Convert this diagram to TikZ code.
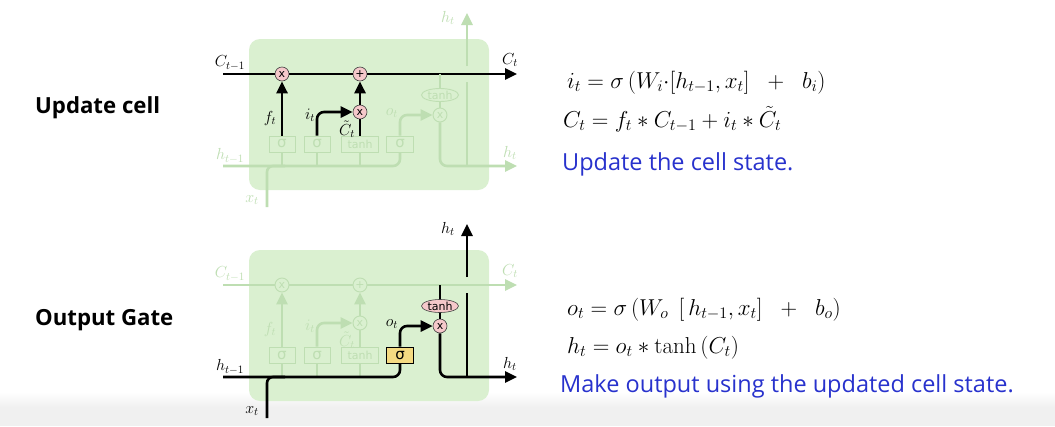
\RequirePackage{fix-cm}
\documentclass[tikz,border=0pt]{standalone}
\usepackage{fontspec}
\usetikzlibrary{arrows.meta,shapes.geometric}
\newfontfamily\dejavu{DejaVu Sans}
\newfontfamily\osans{Open Sans}
\definecolor{boxg}{RGB}{218,240,208}
\definecolor{faintc}{RGB}{190,222,178}
\definecolor{opink}{RGB}{245,200,202}
\definecolor{gyel}{RGB}{245,218,130}
\definecolor{txtblue}{RGB}{40,50,205}
\tikzset{
  hi/.style={draw=black,line width=2.6pt},
  lo/.style={draw=faintc,line width=2.6pt},
  tip/.style={-{Triangle[length=12pt,width=11pt]}},
  rbend/.style={rounded corners=7pt},
  smallbend/.style={rounded corners=6pt},
  boxst/.style={rectangle,rounded corners=11pt,fill=boxg,minimum width=240pt,minimum height=151pt,inner sep=0pt},
  opbase/.style={circle,minimum size=14pt,inner sep=0pt,font=\dejavu\fontsize{11}{11}\selectfont},
  ophi/.style={opbase,fill=opink,draw=black!75,line width=0.6pt,text=black},
  oplo/.style={opbase,fill=boxg,draw=faintc,line width=0.9pt,text=faintc},
  thbase/.style={ellipse,minimum width=37pt,minimum height=13pt,inner sep=0pt,font=\dejavu\fontsize{11}{11}\selectfont},
  thhi/.style={thbase,fill=opink,draw=black!75,line width=0.6pt,text=black},
  thlo/.style={thbase,fill=boxg,draw=faintc,line width=0.9pt,text=faintc},
  gbase/.style={rectangle,minimum height=16pt,inner sep=0pt},
  glo/.style={gbase,fill=boxg,draw=faintc,line width=0.9pt,text=faintc},
  ghi/.style={gbase,fill=gyel,draw=black,line width=0.8pt,text=black},
  sigf/.style={font=\dejavu\fontsize{15}{15}\selectfont},
  tanhf/.style={font=\dejavu\fontsize{11}{11}\selectfont},
  labbase/.style={inner sep=0pt,font=\fontsize{16}{16}\selectfont},
  labhi/.style={labbase,text=black},
  lablo/.style={labbase,text=faintc},
  eqf/.style={inner sep=0pt,anchor=base west,font=\fontsize{23}{23}\selectfont},
  bluef/.style={inner sep=0pt,anchor=base west,text=txtblue,font=\osans\fontsize{23.5}{23.5}\selectfont},
  titlef/.style={inner sep=0pt,anchor=base west,text=black,font=\osans\bfseries\fontsize{22.2}{22.2}\selectfont},
}
\newcommand\lstmcell[1]{%
  \node[boxst] (#1box) at (369,114.5) {};
  % operator nodes
  \node[Cop] (#1m1) at (282,74) {x};
  \node[Cop] (#1add) at (360,74) {+};
  \node[Iop] (#1m2) at (360,112) {x};
  \node[Hop] (#1m3) at (440,115) {x};
  \node[Hth] (#1th) at (440,95) {tanh};
  % gates
  \node[glo,sigf,minimum width=26pt] (#1g1) at (282,144) {σ};
  \node[glo,sigf,minimum width=26pt] (#1g2) at (317,144) {σ};
  \node[glo,tanhf,minimum width=37pt] (#1gt) at (360,144) {tanh};
  \node[G3,sigf,minimum width=27pt] (#1g3) at (400,144) {σ};
  % coordinates
  \coordinate (#1cin) at (223,74);
  \coordinate (#1cout) at (517,74);
  \coordinate (#1hin) at (223,166);
  \coordinate (#1xin) at (267,207);
  \coordinate (#1xj) at (285,166);
  \coordinate (#1ctap) at (440,74);
  \coordinate (#1hout) at (517,166);
  \coordinate (#1hv1) at (467,166);
  \coordinate (#1hv2) at (467,82);
  \coordinate (#1hv3) at (467,66);
  \coordinate (#1htop) at (467,13);
  % cell state line
  \draw[Cst] (#1cin) -- (#1m1.west);
  \draw[Cst] (#1m1.east) -- (#1add.west);
  \draw[Cst,tip] (#1add.east) -- (#1cout);
  % branches from the input line
  \draw[lo] (#1g1.south) -- (#1g1.south |- #1hin);
  \draw[lo] (#1g2.south) -- (#1g2.south |- #1hin);
  \draw[lo] (#1gt.south) -- (#1gt.south |- #1hin);
  % input line and x_t
  \draw[Inst,rbend] (#1hin) -| (#1g3.south);
  \draw[Inst,smallbend] (#1xin) |- (#1xj);
  % forget gate
  \draw[Fst,tip] (#1g1.north) -- (#1m1.south);
  % input gate
  \draw[Ist,tip,rbend] (#1g2.north) |- (#1m2.west);
  \draw[Ist] (#1gt.north) -- (#1m2.south);
  \draw[Ist,tip] (#1m2.north) -- (#1add.south);
  % output gate
  \draw[Ost,tip,rbend] (#1g3.north) |- (#1m3.west);
  % hidden output
  \draw[Hst] (#1ctap) -- (#1th.north);
  \draw[Hst] (#1th.south) -- (#1m3.north);
  \draw[Hst,tip,rbend] (#1m3.south) |- (#1hout);
  \draw[Hst] (#1hv1) -- (#1hv2);
  \draw[Hst,tip] (#1hv3) -- (#1htop);
  % labels
  \node[Clab] (#1lc1) at (230,63) {$C_{t-1}$};
  \node[Clab] (#1lc2) at (510,60) {$C_t$};
  \node[Hlab] (#1lh1) at (230,156) {$h_{t-1}$};
  \node[Hlab] (#1lh2) at (510,153) {$h_t$};
  \node[Hlab] (#1lx) at (252,200) {$x_t$};
  \node[Hlab] (#1lh3) at (448,18) {$h_t$};
  \node[Flab] (#1lf) at (270,118) {$f_t$};
  \node[Flab] (#1li) at (310,115) {$i_t$};
  \node[Flab] (#1lct) at (347,129) {$\tilde{C}_t$};
  \node[Olab] (#1lo) at (392,113) {$o_t$};
}
\begin{document}
\begin{tikzpicture}[x=1pt,y=-1pt]
  \useasboundingbox (0,0) rectangle (1055,426);
  \fill[white] (0,0) rectangle (1055,426);
  \shade[top color=white,bottom color=gray!12] (0,392) rectangle (1055,407);
  \fill[gray!12] (0,407) rectangle (1055,426);
  % top panel: update cell
  \begin{scope}[Cst/.style={hi},Cop/.style={ophi},Iop/.style={ophi},Hop/.style={oplo},Hth/.style={thlo},
      G3/.style={glo},Inst/.style={lo},Fst/.style={hi},Ist/.style={hi},Ost/.style={lo},Hst/.style={lo},
      Clab/.style={labhi},Hlab/.style={lablo},Flab/.style={labhi},Olab/.style={lablo}]
    \lstmcell{u}
  \end{scope}
  % bottom panel: output gate
  \begin{scope}[yshift=-211pt,Cst/.style={lo},Cop/.style={oplo},Iop/.style={oplo},Hop/.style={ophi},Hth/.style={thhi},
      G3/.style={ghi},Inst/.style={hi},Fst/.style={lo},Ist/.style={lo},Ost/.style={hi},Hst/.style={hi},
      Clab/.style={lablo},Hlab/.style={labhi},Flab/.style={lablo},Olab/.style={labhi}]
    \lstmcell{o}
  \end{scope}
  % titles
  \node[titlef] (t1) at (35,113) {Update cell};
  \node[titlef] (t2) at (35,325) {Output Gate};
  % equations
  \node[eqf] (e1) at (567,88) {$i_t=\sigma\,(W_i{\cdot}[h_{t-1},x_t]\;\;+\;\;b_i)$};
  \node[eqf] (e2) at (563,127) {$C_t=f_t*C_{t-1}+i_t*\tilde{C}_t$};
  \node[bluef] (b1) at (562,170) {Update the cell state.};
  \node[eqf] (e3) at (567,315) {$o_t=\sigma\,(W_o\;\,[\,h_{t-1},x_t]\;\;+\;\;b_o)$};
  \node[eqf] (e4) at (567,353) {$h_t=o_t*\tanh\,(C_t)$};
  \node[bluef] (b2) at (560,392) {Make output using the updated cell state.};
\end{tikzpicture}
\end{document}
